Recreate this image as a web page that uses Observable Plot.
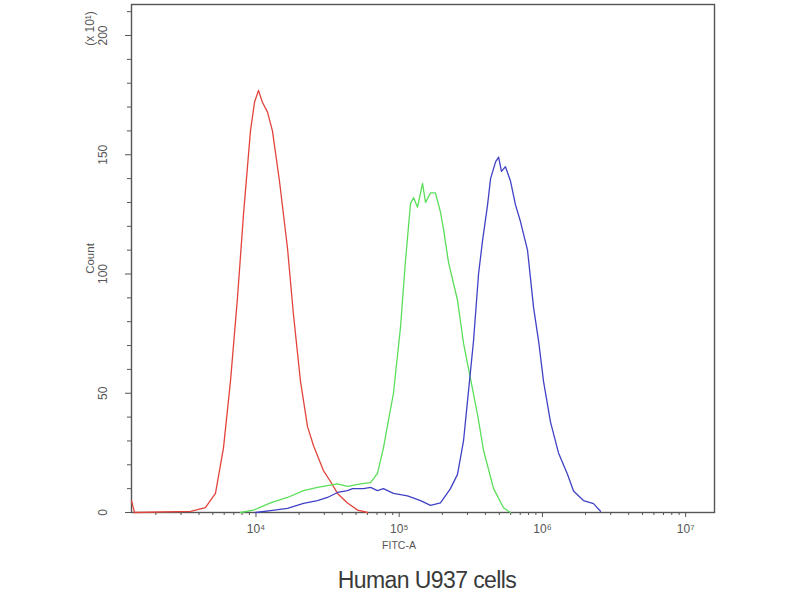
<!DOCTYPE html>
<html>
<head>
<meta charset="utf-8">
<script src="https://cdn.jsdelivr.net/npm/d3@7"></script>
<script src="https://cdn.jsdelivr.net/npm/@observablehq/plot@0.6"></script>
<style>
  html, body { margin: 0; padding: 0; background: #fff; }
  #wrap { width: 800px; height: 600px; position: relative; overflow: hidden; }
  #caption { position: absolute; left: 0; width: 854px; top: 567px; text-align: center;
    font-family: "Liberation Sans", Arial, sans-serif; font-size: 23px; color: #3a3a3a; letter-spacing: -0.6px; }
  svg text { font-family: "Liberation Sans", Arial, sans-serif; }
</style>
</head>
<body>
<div id="wrap"><div id="chart"></div><div id="caption">Human U937 cells</div></div>
<script>
// Control histogram (red)
const controlX = [1352, 1419, 3492, 4436, 5214, 5929, 6637, 7428, 8184, 9155, 9772, 10410, 11090, 12020, 13030, 14590, 16590, 18270, 20460, 22910, 25230, 29580, 33130, 37080, 43550, 51200, 60100];
const controlY = [5, 0, 0.5, 2, 8, 27, 55, 90, 125, 160, 172, 177, 172, 168, 160, 139, 111, 83, 55, 36, 28, 17.6, 13, 8, 4, 1, 0];
// Sample A histogram (green)
const sampleAX = [7800, 9610, 12620, 16590, 21480, 26870, 31550, 37080, 43550, 53700, 63100, 70500, 77600, 84100, 91200, 102100, 110700, 120000, 126000, 134300, 145500, 152700, 165500, 179100, 194100, 203700, 220800, 255300, 281200, 314800, 352400, 388200, 456000, 535000, 598000];
const sampleAY = [0, 1, 4, 6.3, 9.2, 10.5, 11.3, 12, 11, 12, 12.5, 16.4, 27, 38.6, 50, 77.6, 105.7, 129.6, 132, 128, 138, 130, 134, 134, 126, 119, 105, 89, 71, 56, 41, 26, 10, 2, 0];
// Sample B histogram (blue)
const sampleBX = [9930, 12620, 16590, 21480, 26870, 31550, 37080, 43550, 47200, 51200, 56400, 63100, 70500, 77600, 91200, 114300, 140900, 165500, 194100, 228000, 255300, 281200, 304800, 330400, 358100, 381900, 414000, 434500, 470900, 494400, 517600, 552000, 598200, 648300, 702600, 786900, 867100, 939700, 1018000, 1138000, 1295000, 1496000, 1648000, 1935000, 2274000, 2546000];
const sampleBY = [0, 0.8, 1.7, 3.8, 5, 6.3, 8.4, 9.2, 10, 10, 10, 10.5, 9.2, 10, 8, 7, 5, 3, 4, 10, 16, 30, 51, 72, 100, 114, 129, 140, 147, 149, 143, 145, 139, 129, 122, 110, 86, 72, 55, 38, 25, 16, 9, 5, 3.7, 0.5];

const seriesNames = ["control", "sampleA", "sampleB"];
const seriesColors = ["#e2443c", "#5ade5a", "#4141c6"];

// Axis ticks and labels
const xMajorTicks = [1e4, 1e5, 1e6, 1e7];
const xMajorLabels = ["10\u2074", "10\u2075", "10\u2076", "10\u2077"];
const xMinorTicks = [2e3, 3e3, 4e3, 5e3, 6e3, 7e3, 8e3, 9e3,
  2e4, 3e4, 4e4, 5e4, 6e4, 7e4, 8e4, 9e4,
  2e5, 3e5, 4e5, 5e5, 6e5, 7e5, 8e5, 9e5,
  2e6, 3e6, 4e6, 5e6, 6e6, 7e6, 8e6, 9e6];
const yMajorTicks = [0, 50, 100, 150, 200];
const yMinorTicks = [10, 20, 30, 40, 60, 70, 80, 90, 110, 120, 130, 140, 160, 170, 180, 190, 210];

const rows = (xs, ys, s) => xs.map((x, i) => ({x, y: ys[i], s}));
const data = [
  ...rows(controlX, controlY, seriesNames[0]),
  ...rows(sampleAX, sampleAY, seriesNames[1]),
  ...rows(sampleBX, sampleBY, seriesNames[2])
];

const axisColor = "#555";
const chart = Plot.plot({
  width: 800,
  height: 562,
  marginLeft: 131,
  marginRight: 86,
  marginTop: 4,
  marginBottom: 50,
  x: {type: "log", domain: [1352, 1.59e7]},
  y: {domain: [0, 213]},
  color: {domain: seriesNames, range: seriesColors},
  marks: [
    Plot.frame({stroke: axisColor, strokeWidth: 1.4}),
    Plot.axisX({ticks: xMinorTicks, tickSize: 3, tickFormat: () => "", label: null, stroke: axisColor}),
    Plot.axisX({ticks: xMajorTicks, tickSize: 5, tickPadding: 7, tickFormat: d => xMajorLabels[xMajorTicks.indexOf(d)], label: null, stroke: axisColor, fill: "#555", fontSize: 12}),
    Plot.axisY({ticks: yMinorTicks, tickSize: 4, tickFormat: () => "", label: null, stroke: axisColor}),
    Plot.axisY({ticks: yMajorTicks, tickSize: 6, tickFormat: () => "", label: null, stroke: axisColor}),
    Plot.text(yMajorTicks, {y: d => d, text: d => String(d), frameAnchor: "left", textAnchor: "middle", lineAnchor: "middle", dx: -28, rotate: -90, fill: "#555", fontSize: 12}),
    Plot.text(["Count"], {text: d => d, frameAnchor: "left", textAnchor: "middle", lineAnchor: "middle", dx: -41, rotate: -90, fill: "#555", fontSize: 11.5}),
    Plot.text(["(x 10\u00b9)"], {text: d => d, frameAnchor: "top-left", textAnchor: "middle", lineAnchor: "middle", dx: -41, dy: 24, rotate: -90, fill: "#555", fontSize: 12}),
    Plot.text(["FITC-A"], {text: d => d, frameAnchor: "bottom", textAnchor: "middle", dx: -24, dy: 36, fill: "#555", fontSize: 10.5}),
    Plot.line(data, {x: "x", y: "y", z: "s", stroke: "s", strokeWidth: 1.3, curve: "linear"})
  ]
});
document.getElementById("chart").appendChild(chart);
</script>
</body>
</html>
